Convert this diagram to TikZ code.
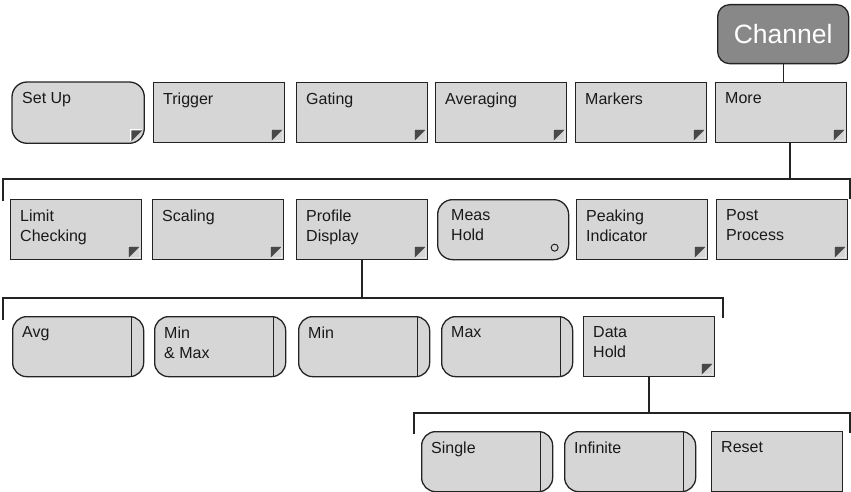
\documentclass[tikz,border=0pt]{standalone}
\usepackage{fontspec}
\setmainfont{Liberation Sans}
\usepackage{xcolor}
\usepackage{tikz}
\usetikzlibrary{positioning,calc,backgrounds}
\definecolor{keygray}{RGB}{214,214,214}
\definecolor{keyline}{RGB}{35,35,35}
\definecolor{markgray}{RGB}{72,72,72}
\definecolor{changray}{RGB}{136,136,136}
\tikzset{
  key/.style={draw=keyline, line width=1.3pt, fill=keygray, anchor=north west, inner sep=0pt, minimum width=131pt, minimum height=60pt},
  keytext/.style={anchor=north west, inner sep=0pt, align=left, xshift=10pt, yshift=-10.5pt, font=\fontsize{16}{20}\selectfont, text=black!90},
  cornermark/.style={path picture={
      \coordinate (m) at (path picture bounding box.south east);
      \fill[white] ([shift={(-14pt,2pt)}]m) rectangle ([shift={(-2pt,14pt)}]m);
      \fill[keygray] ([shift={(-13pt,2pt)}]m) -- ([shift={(-2pt,2pt)}]m) -- ([shift={(-2pt,13pt)}]m) -- cycle;
      \fill[markgray] ([shift={(-13pt,13pt)}]m) -- ([shift={(-2pt,13pt)}]m) -- ([shift={(-13pt,2pt)}]m) -- cycle;}},
  submenu/.style={key, cornermark},
  toggle/.style={key, rounded corners=14pt, path picture={
      \draw[keyline, line width=1.3pt] ([xshift=-12pt]path picture bounding box.north east) -- ([xshift=-12pt]path picture bounding box.south east);}},
  chanbox/.style={draw=keyline, line width=1.3pt, fill=changray, rounded corners=12pt, anchor=north west, minimum width=131pt, minimum height=59pt, text=white, font=\fontsize{26.5}{30}\selectfont},
  wire/.style={draw=keyline, line width=1.2pt},
}

\begin{document}
\begin{tikzpicture}[x=1pt, y=-1pt]
  \useasboundingbox (0,0) rectangle (851,492);
  % top key
  \node[chanbox] (chan) at (717,4) {Channel};
  % first menu row
  \node[key, draw=none, fill=none, label={[keytext]north west:Set Up}] (setup) at (12,82) {};
  \begin{scope}[on background layer]
    \draw[keyline, fill=keygray, line width=1.3pt, cornermark] (setup.south) [rounded corners=15pt] -- (setup.south west) -- (setup.north west) -- (setup.north east) -- (setup.south east) [sharp corners] -- cycle;
  \end{scope}
  \node[submenu, label={[keytext]north west:Trigger}] (trigger) at (153,82) {};
  \node[submenu, label={[keytext]north west:Gating}] (gating) at (296,82) {};
  \node[submenu, label={[keytext]north west:Averaging}] (averaging) at (435,82) {};
  \node[submenu, label={[keytext]north west:Markers}] (markers) at (575,82) {};
  \node[submenu, label={[keytext]north west:More}] (more) at (715,82) {};
  \draw[wire] (chan.south) -- (chan.south |- more.north);
  % second menu row
  \node[submenu, label={[keytext]north west:Limit\\Checking}] (limit) at (10,199) {};
  \node[submenu, label={[keytext]north west:Scaling}] (scaling) at (152,199) {};
  \node[submenu, label={[keytext]north west:Profile\\Display}] (profile) at (296,199) {};
  \node[key, rounded corners=15pt, label={[keytext, xshift=4pt]north west:Meas\\Hold},
    path picture={\draw[keyline, line width=1pt] ([shift={(-14pt,12pt)}]path picture bounding box.south east) circle[radius=3.5pt];}] (meashold) at (437,199) {};
  \node[submenu, label={[keytext]north west:Peaking\\Indicator}] (peaking) at (576,199) {};
  \node[submenu, label={[keytext]north west:Post\\Process}] (post) at (716,199) {};
  \coordinate (b1) at (790,179);
  \coordinate (b1l) at (3,201);
  \coordinate (b1r) at (850,199);
  \draw[wire] (more.south -| b1) -- (b1);
  \draw[wire] (b1l) |- (b1) -| (b1r);
  % profile display choices
  \node[toggle, label={[keytext]north west:Avg}] (avg) at (12,316) {};
  \node[toggle, label={[keytext]north west:Min\\\& Max}] (minmax) at (154,316) {};
  \node[toggle, label={[keytext]north west:Min}] (min) at (298,316) {};
  \node[toggle, label={[keytext]north west:Max}] (max) at (441,316) {};
  \node[submenu, label={[keytext]north west:Data\\Hold}] (datahold) at (583,316) {};
  \coordinate (b2) at (362,298);
  \coordinate (b2l) at (3,320);
  \coordinate (b2r) at (723,318);
  \draw[wire] (profile.south -| b2) -- (b2);
  \draw[wire] (b2l) |- (b2) -| (b2r);
  % data hold choices
  \node[toggle, label={[keytext]north west:Single}] (single) at (421,431) {};
  \node[toggle, label={[keytext]north west:Infinite}] (infinite) at (564,431) {};
  \node[key, label={[keytext]north west:Reset}] (reset) at (711,431) {};
  \coordinate (b3) at (649,413);
  \coordinate (b3l) at (414,434);
  \coordinate (b3r) at (850,433);
  \draw[wire] (datahold.south -| b3) -- (b3);
  \draw[wire] (b3l) |- (b3) -| (b3r);
\end{tikzpicture}
\end{document}
